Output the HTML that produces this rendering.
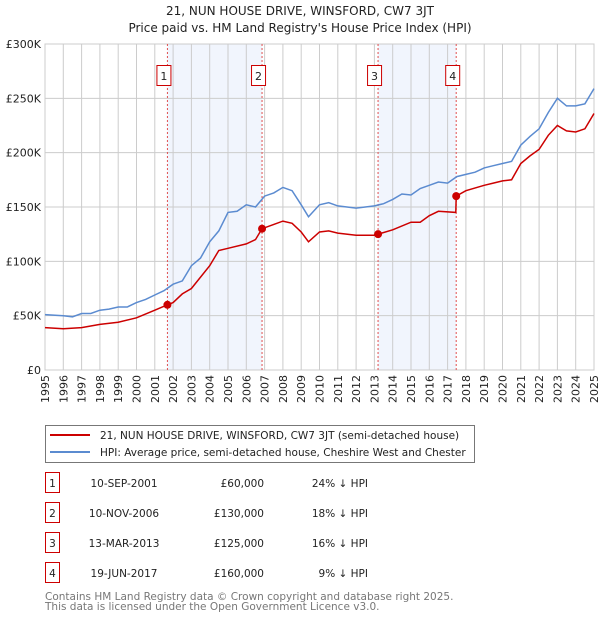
<!DOCTYPE html>
<html><head><meta charset="utf-8"><style>
body{margin:0;background:#fff;font-family:"DejaVu Sans","Liberation Sans",sans-serif;}
svg text{font-family:"DejaVu Sans","Liberation Sans",sans-serif;}
</style></head><body>
<svg id="c" width="600" height="620" viewBox="0 0 600 620" xmlns="http://www.w3.org/2000/svg">
<text x="300" y="15" text-anchor="middle" font-size="12" fill="#222">21, NUN HOUSE DRIVE, WINSFORD, CW7 3JT</text>
<text x="300" y="32" text-anchor="middle" font-size="12" fill="#222">Price paid vs. HM Land Registry's House Price Index (HPI)</text>
<g id="plot"></g>
<g>
<rect x="45.5" y="425.5" width="429" height="37" fill="#fff" stroke="#777"/>
<line x1="50" y1="435" x2="90" y2="435" stroke="#cc0000" stroke-width="2"/>
<text x="100" y="439" font-size="10.5" fill="#222">21, NUN HOUSE DRIVE, WINSFORD, CW7 3JT (semi-detached house)</text>
<line x1="50" y1="452" x2="90" y2="452" stroke="#5b8bd0" stroke-width="2"/>
<text x="100" y="456" font-size="10.5" fill="#222">HPI: Average price, semi-detached house, Cheshire West and Chester</text>
</g>
<g id="table" font-size="10.5" fill="#222"></g>
<text x="45" y="600" font-size="10.5" fill="#777">Contains HM Land Registry data © Crown copyright and database right 2025.</text>
<text x="45" y="610" font-size="10.5" fill="#777">This data is licensed under the Open Government Licence v3.0.</text>
</svg>
<script>
const hpiYears=[1995,1996,1996.5,1997,1997.5,1998,1998.5,1999,1999.5,2000,2000.5,2001,2001.5,2002,2002.5,2003,2003.5,2004,2004.5,2005,2005.5,2006,2006.5,2007,2007.5,2008,2008.5,2009,2009.4,2010,2010.5,2011,2011.5,2012,2012.5,2013,2013.5,2014,2014.5,2015,2015.5,2016,2016.5,2017,2017.5,2018,2018.5,2019,2019.5,2020,2020.5,2021,2021.5,2022,2022.5,2023,2023.5,2024,2024.5,2025];
const hpiValues=[51,50,49,52,52,55,56,58,58,62,65,69,73,79,82,96,103,118,128,145,146,152,150,160,163,168,165,152,141,152,154,151,150,149,150,151,153,157,162,161,167,170,173,172,178,180,182,186,188,190,192,207,215,222,237,250,243,243,245,259];
const priceYears=[1995,1996,1997,1998,1999,2000,2001,2001.69,2002,2002.5,2003,2004,2004.5,2005,2006,2006.5,2006.86,2007.5,2008,2008.5,2009,2009.4,2010,2010.5,2011,2012,2013,2013.2,2014,2015,2015.5,2016,2016.5,2017.45,2017.47,2018,2019,2019.5,2020,2020.5,2021,2021.5,2022,2022.5,2023,2023.5,2024,2024.5,2025];
const priceValues=[39,38,39,42,44,48,55,60,62,70,75,96,110,112,116,120,130,134,137,135,127,118,127,128,126,124,124,125,129,136,136,142,146,145,160,165,170,172,174,175,190,197,203,216,225,220,219,222,236];
const saleYears=[2001.69,2006.86,2013.2,2017.47];
const saleValues=[60,130,125,160];
const saleLabels=["1","2","3","4"];
const saleDates=["10-SEP-2001","10-NOV-2006","13-MAR-2013","19-JUN-2017"];
const salePrices=["£60,000","£130,000","£125,000","£160,000"];
const saleDiffs=["24% ↓ HPI","18% ↓ HPI","16% ↓ HPI","9% ↓ HPI"];
const yTicks=[0,50,100,150,200,250,300];
const yTickLabels=["£0","£50K","£100K","£150K","£200K","£250K","£300K"];
const xTicks=[];for(let y=1995;y<=2025;y++)xTicks.push(y);

const NS="http://www.w3.org/2000/svg";
const X0=45,X1=594,Y0=370,Y1=44;
const xs=v=>X0+(v-1995)/30*(X1-X0);
const ys=v=>Y0-v/300*(Y0-Y1);
function mk(tag,at,parent){const e=document.createElementNS(NS,tag);for(const k in at)e.setAttribute(k,at[k]);parent.appendChild(e);return e;}
const plot=document.getElementById('plot');
for(let i=0;i<4;i+=2){
 const r=mk('rect',{x:xs(saleYears[i]),y:Y1,width:xs(saleYears[i+1])-xs(saleYears[i]),height:Y0-Y1,fill:'#eef3fc',opacity:0.8},plot);
 
 
}
xTicks.forEach(t=>{
 const l=mk('line',{x1:xs(t),x2:xs(t),y1:Y1,y2:Y0,stroke:'#ccc','stroke-width':1},plot);
 
 
 const tx=mk('text',{x:0,y:0,'font-size':11,fill:'#222','text-anchor':'end',transform:`translate(${xs(t)+4},${Y0+5}) rotate(-90)`},plot);
 tx.textContent=t;
 
 
});
yTicks.forEach((t,i)=>{
 const l=mk('line',{x1:X0,x2:X1,y1:ys(t),y2:ys(t),stroke:'#ccc','stroke-width':1},plot);
 
 
 const tx=mk('text',{x:X0-4,y:ys(t)+4,'font-size':11,fill:'#222','text-anchor':'end'},plot);
 tx.textContent=yTickLabels[i];
 
 
});
const fr=mk('rect',{x:X0,y:Y1,width:X1-X0,height:Y0-Y1,fill:'none',stroke:'#ccc'},plot);


saleYears.forEach((s,i)=>{
 const l=mk('line',{x1:xs(s),x2:xs(s),y1:Y1,y2:Y0,stroke:'#e05050','stroke-width':1,'stroke-dasharray':'2,2'},plot);
 
 
});
const pts=(a,b)=>a.map((v,i)=>xs(v).toFixed(1)+','+ys(b[i]).toFixed(1)).join(' ');
const hl=mk('polyline',{points:pts(hpiYears,hpiValues),fill:'none',stroke:'#5b8bd0','stroke-width':1.5},plot);


const pl=mk('polyline',{points:pts(priceYears,priceValues),fill:'none',stroke:'#cc0000','stroke-width':1.5},plot);


saleYears.forEach((s,i)=>{
 const c=mk('circle',{cx:xs(s),cy:ys(saleValues[i]),r:4,fill:'#cc0000'},plot);
 
 
 const g=mk('g',{},plot);
 
 
 mk('rect',{x:xs(s)-10.5,y:65.5,width:14,height:20,fill:'#fff',stroke:'#cc0000'},g);
 const t=mk('text',{x:xs(s)-3.5,y:80,'font-size':11,'text-anchor':'middle',fill:'#222'},g);
 t.textContent=saleLabels[i];
});
const tb=document.getElementById('table');
saleLabels.forEach((lab,i)=>{
 const y=483+i*30;
 const g=mk('g',{},tb);
 
 
 mk('rect',{x:45.5,y:y-10.5,width:14,height:20,fill:'#fff',stroke:'#cc0000'},g);
 const cells=[[52.5,lab,'middle'],[124,saleDates[i],'middle'],[264,salePrices[i],'end'],[368,saleDiffs[i],'end']];
 cells.forEach(([x,txt,an])=>{const t=mk('text',{x:x,y:y+4,'text-anchor':an,'font-size':10.5,fill:'#222'},g);t.textContent=txt;});
});
</script>
</body></html>
